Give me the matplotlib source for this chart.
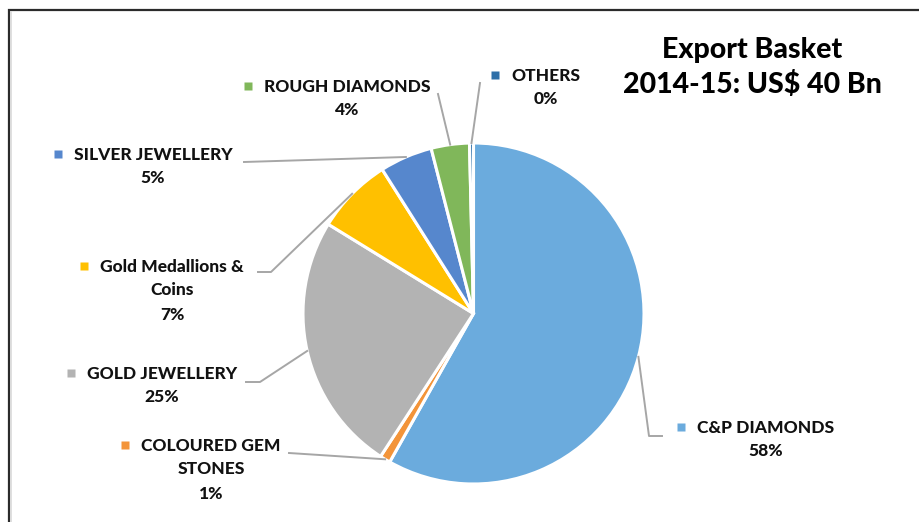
import matplotlib.pyplot as plt
import numpy as np

plt.rcParams['font.family'] = ['Lato', 'DejaVu Sans']

# export basket 2014-15, US$ Bn (clockwise from 12 o'clock)
segments = ["C&P DIAMONDS", "COLOURED GEM\nSTONES", "GOLD JEWELLERY",
            "Gold Medallions &\nCoins", "SILVER JEWELLERY", "ROUGH DIAMONDS", "OTHERS"]
export_bn = [23.3, 0.4, 9.85, 2.9, 2.0, 1.45, 0.15]
colors = ["#6BABDD", "#F39439", "#B3B3B3", "#FFC000", "#5687CD", "#80B75A", "#2E6FA8"]
title_lines = ["Export Basket", "2014-15: US$ 40 Bn"]

W, H = 920, 522
fig = plt.figure(figsize=(W / 100, H / 100), dpi=100)
ax = fig.add_axes([0, 0, 1, 1])


def Y(y):
    # pixel row from the top -> data y
    return H - y


cx, cy, r = 473.5, Y(313.5), 170.5
wedges, _ = ax.pie(export_bn, colors=colors, startangle=90, counterclock=False,
                   center=(cx, cy), radius=r, frame=True,
                   wedgeprops=dict(edgecolor="white", linewidth=2.2))
ax.set_xlim(0, W)
ax.set_ylim(0, H)
ax.set_aspect("equal")
ax.axis("off")

# frame around the chart area (runs off right and bottom edges)
ax.plot([9.5, 9.5, W + 5], [Y(H + 5), Y(10), Y(10)], color="#2b2b2b", lw=1.6,
        solid_joinstyle="miter")
ax.plot([11.5, 11.5], [Y(H + 5), Y(12)], color="#d9d9d9", lw=1.2)

total = sum(export_bn)
pcts = [round(v / total * 100) for v in export_bn]

# label block: first-line centre, leader elbow/end points (pixels from top)
label_pos = [(766, 428), (211, 446), (162, 374), (172, 267), (153, 155), (347, 87), (546, 76)]
leader_mid = [(649, 436), None, (260, 382), (271, 272), None, None, None]
leader_end = [(662, 436), (289, 453), (246, 382), (258, 272), (244, 162), (438, 94), (480, 83)]

line_h = 23
lab_font = dict(fontsize=12.5, fontweight="black", color="#111111")
fig.canvas.draw()
renderer = fig.canvas.get_renderer()
for w, name, pct, c, (lx, ly), mid, end in zip(wedges, segments, pcts, colors,
                                               label_pos, leader_mid, leader_end):
    ang = np.deg2rad((w.theta1 + w.theta2) / 2)
    sx, sy = cx + r * np.cos(ang), cy + r * np.sin(ang)
    xs, ys = [sx], [sy]
    if mid is not None:
        xs.append(mid[0]); ys.append(Y(mid[1]))
    xs.append(end[0]); ys.append(Y(end[1]))
    ax.plot(xs, ys, color="#A6A6A6", lw=1.4, zorder=1)

    lines = name.split("\n") + [f"{pct}%"]
    first = None
    for i, s in enumerate(lines):
        t = ax.text(lx, Y(ly + i * line_h + (2 if i == len(lines) - 1 and i > 1 else 0)),
                    s, ha="center", va="center", **lab_font)
        if i == 0:
            first = t
    bb = first.get_window_extent(renderer)
    ax.plot(bb.x0 - 16, Y(ly - 1), marker="s", ms=5.5, color=c, mec="none", ls="none")

ax.text(752, Y(50), title_lines[0], ha="center", va="center", fontsize=20.5,
        fontweight="black", color="black")
ax.text(752, Y(85), title_lines[1], ha="center", va="center", fontsize=20.5,
        fontweight="black", color="black")

fig.savefig("out.png", dpi=100)
